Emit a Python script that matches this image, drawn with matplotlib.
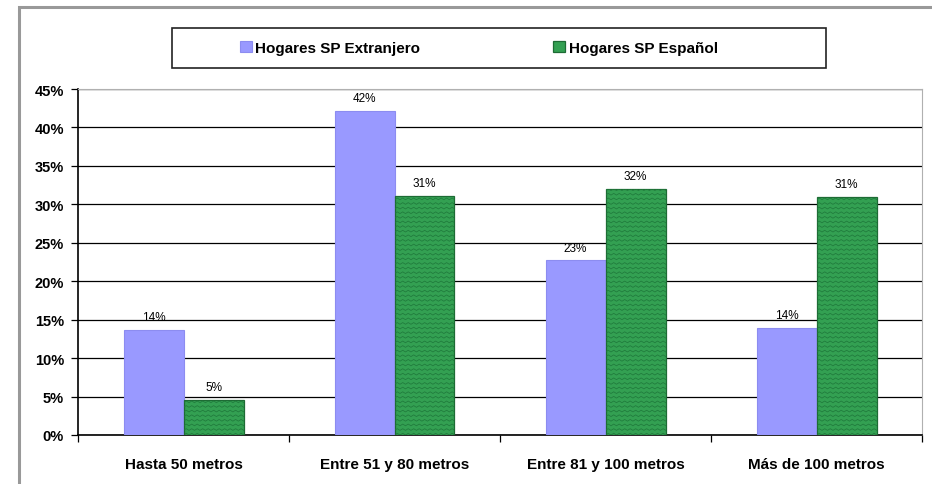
import numpy as np
import matplotlib
matplotlib.use("Agg")
import matplotlib.pyplot as plt
from matplotlib.patches import Rectangle
from matplotlib.ticker import FuncFormatter, FixedLocator

plt.rcParams["font.family"] = ["Liberation Sans", "DejaVu Sans"]

# datos
categorias = ["Hasta 50 metros", "Entre 51 y 80 metros", "Entre 81 y 100 metros", "Más de 100 metros"]
extranjero = [13.7, 42.1, 22.7, 13.9]
espanol = [4.6, 31.1, 32.0, 30.9]
series = ["Hogares SP Extranjero", "Hogares SP Español"]

c_azul = "#9999ff"
c_verde = "#33a052"
c_zig = "#207a3c"

fig = plt.figure(figsize=(9.32, 4.85), dpi=100)
ax = fig.add_axes([78 / 932, 1 - 436 / 485, (922 - 78) / 932, (436 - 90) / 485])

x = np.arange(len(categorias))
w = 60 / 211

b1 = ax.bar(x - w / 2, extranjero, w, color=c_azul, edgecolor="#8c8cf0", lw=0.8, zorder=3)
b2 = ax.bar(x + w / 2, espanol, w, color=c_verde, edgecolor="#1d6b34", lw=0.9, zorder=3)

# textura en zigzag de las barras verdes
for bar in b2:
    x0, y0 = bar.get_x(), bar.get_y()
    bw, bh = bar.get_width(), bar.get_height()
    xs = np.arange(x0, x0 + bw + 0.03, 0.013)
    for yy in np.arange(0, bh + 0.6, 0.6):
        zz = yy + np.where(np.arange(len(xs)) % 2 == 0, 0, 0.22)
        ln, = ax.plot(xs, zz, color=c_zig, lw=0.55, zorder=4)
        ln.set_clip_path(bar)

# etiquetas de datos
for bars, vals in [(b1, extranjero), (b2, espanol)]:
    for bar, v in zip(bars, vals):
        ax.text(bar.get_x() + bar.get_width() / 2, v + 0.9, f"{round(v)}%",
                ha="center", va="bottom", fontsize=8.5, zorder=5)

ax.set_xlim(-0.5, len(categorias) - 0.5)
ax.set_ylim(0, 45)
ax.set_yticks(np.arange(0, 46, 5))
ax.yaxis.set_major_formatter(FuncFormatter(lambda v, p: f"{v:.0f}%"))
ax.grid(axis="y", color="black", lw=0.9, zorder=1)
ax.set_axisbelow(True)

ax.set_xticks(x)
ax.set_xticklabels(categorias, fontsize=11, fontweight="bold")
ax.xaxis.set_minor_locator(FixedLocator(np.arange(-0.5, len(categorias), 1.0)))
ax.tick_params(axis="x", which="major", length=0, pad=16)
ax.tick_params(axis="x", which="minor", length=5, width=0.9, direction="out")
ax.tick_params(axis="y", length=5, width=0.9, direction="out", labelsize=10.5, pad=5)
for lab in ax.get_yticklabels():
    lab.set_fontweight("bold")

ax.spines["top"].set_color("#b0b0b0")
ax.spines["right"].set_color("#b0b0b0")
ax.spines["left"].set_linewidth(1.2)
ax.spines["bottom"].set_linewidth(1.2)

# marco exterior
fig.patches.append(Rectangle((19 / 932, -0.05), 1.0, 1 - 8 / 485 + 0.05, transform=fig.transFigure,
                             fill=False, edgecolor="#999999", lw=2.2, zorder=0))

# leyenda
fig.patches.append(Rectangle((172 / 932, 1 - 69 / 485), 654 / 932, 40 / 485, transform=fig.transFigure,
                             fill=False, edgecolor="#222222", lw=1.2, zorder=1))
leg = fig.legend([b1, b2], series, loc="center", bbox_to_anchor=(479 / 932, 1 - 49 / 485),
                 ncol=2, frameon=False, handlelength=0.75, handleheight=0.75, handletextpad=0.25,
                 columnspacing=8.7, prop={"weight": "bold", "size": 11})

fig.savefig("out.png", dpi=100)
